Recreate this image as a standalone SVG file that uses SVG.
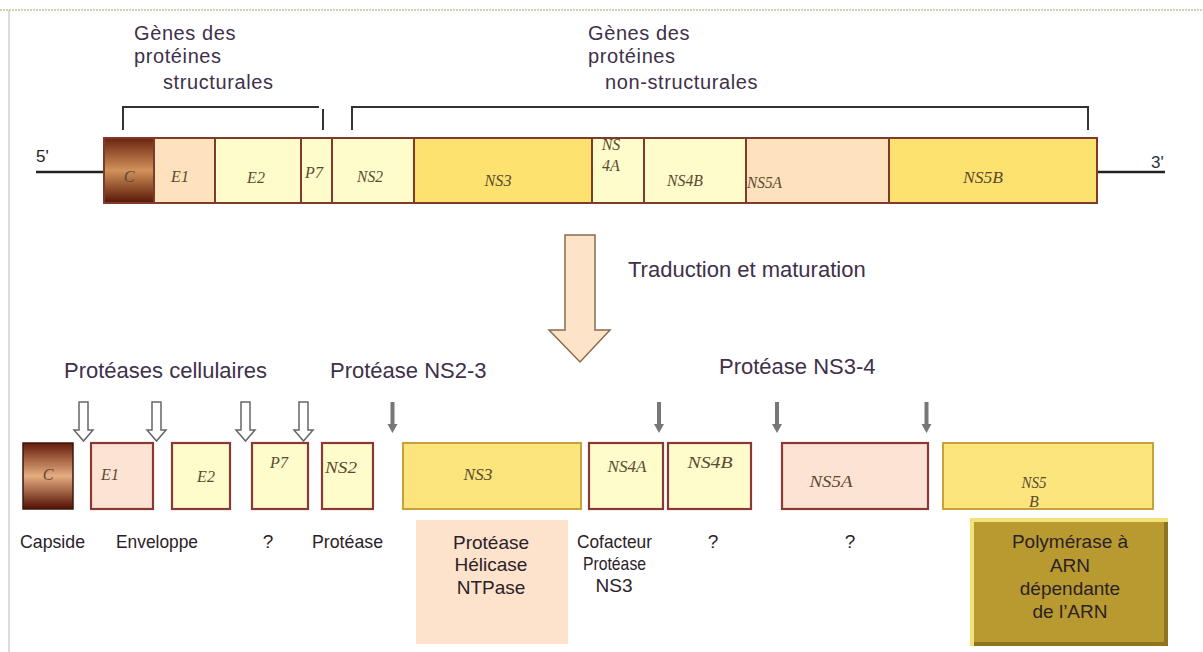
<svg xmlns="http://www.w3.org/2000/svg" width="1203" height="652" viewBox="0 0 1203 652">
<defs>
  <linearGradient id="gC" x1="0" y1="0" x2="0" y2="1">
    <stop offset="0" stop-color="#6a2410"/>
    <stop offset="0.5" stop-color="#d2925a"/>
    <stop offset="1" stop-color="#561606"/>
  </linearGradient>
  <linearGradient id="gC2" x1="0" y1="0" x2="0" y2="1">
    <stop offset="0" stop-color="#641a08"/>
    <stop offset="0.5" stop-color="#e6ad80"/>
    <stop offset="1" stop-color="#521004"/>
  </linearGradient>
  <style>
    .hdr { font-family: "Liberation Sans", Arial, sans-serif; font-size: 22px; fill: #40304a; }
    .gh { font-size: 20px; letter-spacing: 0.6px; }
    .fn { font-family: "Liberation Sans", Arial, sans-serif; font-size: 19px; fill: #2a2228; }
    .lab { font-family: "Liberation Serif", "Times New Roman", serif; font-style: italic; font-size: 16px; fill: #5a4a30; }
    .seg { stroke: #7e3a2c; stroke-width: 2; }
    .pale { fill: #fffccb; }
    .peach { fill: #fde2bd; }
    .gold { fill: #fee270; }
    .box { stroke: #8a3a34; stroke-width: 2.2; }
    .boxg { stroke: #c9a03a; stroke-width: 2; }
    .brk { fill: none; stroke: #333; stroke-width: 2; }
    .hollow { fill: #fff; stroke: #666; stroke-width: 1.5; }
    .grey { fill: #777; }
  </style>
</defs>
<rect width="1203" height="652" fill="#fff"/>
<g id="frame">
  <line x1="0" y1="10" x2="1203" y2="10" stroke="#cdbf98" stroke-width="1.5" stroke-dasharray="2 1"/>
  <line x1="9" y1="10" x2="9" y2="652" stroke="#cfcfcf" stroke-width="1.5"/>
</g>

<g id="headers">
  <text class="hdr gh" x="134" y="40">Gènes des</text>
  <text class="hdr gh" x="134" y="63">protéines</text>
  <text class="hdr gh" x="163" y="89">structurales</text>
  <text class="hdr gh" x="588" y="40">Gènes des</text>
  <text class="hdr gh" x="588" y="63">protéines</text>
  <text class="hdr gh" x="605" y="89">non-structurales</text>
</g>

<g id="genome">
  <line x1="36" y1="172" x2="104" y2="172" stroke="#222" stroke-width="2.5"/>
  <text x="36" y="162" font-family="Liberation Sans, Arial, sans-serif" font-size="17" fill="#222">5'</text>
  <line x1="1097" y1="172" x2="1165" y2="172" stroke="#222" stroke-width="2.5"/>
  <text x="1151" y="168" font-family="Liberation Sans, Arial, sans-serif" font-size="17" fill="#2a3040">3'</text>
  <g id="g-C"><rect x="104" y="138" width="50" height="65" fill="url(#gC)" class="seg"/><text class="lab" x="129" y="182" text-anchor="middle">C</text></g>
  <g id="g-E1"><rect x="154" y="138" width="61" height="65" class="seg peach"/><text class="lab" x="180" y="182" text-anchor="middle">E1</text></g>
  <g id="g-E2"><rect x="215" y="138" width="86" height="65" class="seg pale"/><text class="lab" x="256" y="183" text-anchor="middle">E2</text></g>
  <g id="g-P7"><rect x="301" y="138" width="31" height="65" class="seg pale"/><text class="lab" x="314" y="178" text-anchor="middle">P7</text></g>
  <g id="g-NS2"><rect x="332" y="138" width="82" height="65" class="seg pale"/><text class="lab" x="370" y="182" text-anchor="middle" textLength="26" lengthAdjust="spacingAndGlyphs">NS2</text></g>
  <g id="g-NS3"><rect x="414" y="138" width="178" height="65" class="seg gold" stroke="#c08a30"/><text class="lab" x="498" y="186" text-anchor="middle" textLength="27" lengthAdjust="spacingAndGlyphs">NS3</text></g>
  <g id="g-NS4A"><rect x="592" y="138" width="52" height="65" class="seg pale"/><text class="lab" x="611" y="150" text-anchor="middle">NS</text><text class="lab" x="611" y="171" text-anchor="middle">4A</text></g>
  <g id="g-NS4B"><rect x="644" y="138" width="102" height="65" class="seg pale"/><text class="lab" x="685" y="186" text-anchor="middle" textLength="36" lengthAdjust="spacingAndGlyphs">NS4B</text></g>
  <g id="g-NS5A"><rect x="746" y="138" width="143" height="65" class="seg peach"/><text class="lab" x="747" y="188" textLength="35" lengthAdjust="spacingAndGlyphs">NS5A</text></g>
  <g id="g-NS5B"><rect x="889" y="138" width="208" height="65" class="seg gold" stroke="#b87a30"/><text class="lab" x="983" y="183" text-anchor="middle" textLength="40" lengthAdjust="spacingAndGlyphs">NS5B</text></g>
</g>

<g id="connectors">
  <polyline class="brk" points="123,130 123,107 319,107"/>
  <line class="brk" x1="323" y1="109" x2="323" y2="130"/>
  <polyline class="brk" points="352,130 352,107 1088,107 1088,130"/>
  <polygon points="565,235 595,235 595,330 610,330 580,362 549,330 565,330" fill="#fde3c8" stroke="#8a6a50" stroke-width="1.5"/>
  <g id="hollow-arrows">
    <polygon class="hollow" points="79,402 88,402 88,430 93,430 83.5,441 74,430 79,430"/>
    <polygon class="hollow" points="152,402 161,402 161,430 166,430 156.5,441 147,430 152,430"/>
    <polygon class="hollow" points="241,402 250,402 250,430 255,430 245.5,441 236,430 241,430"/>
    <polygon class="hollow" points="299,402 308,402 308,430 313,430 303.5,441 294,430 299,430"/>
  </g>
  <g id="grey-arrows">
    <polygon class="grey" points="390.5,402 394.5,402 394.5,424 397.5,424 392.5,433 387.5,424 390.5,424"/>
    <polygon class="grey" points="657,402 661,402 661,424 664,424 659,433 654,424 657,424"/>
    <polygon class="grey" points="775,402 779,402 779,424 782,424 777,433 772,424 775,424"/>
    <polygon class="grey" points="924.5,402 928.5,402 928.5,424 931.5,424 926.5,433 921.5,424 924.5,424"/>
  </g>
</g>

<text class="hdr" x="628" y="277">Traduction et maturation</text>
<text class="hdr" x="64" y="378">Protéases cellulaires</text>
<text class="hdr" x="330" y="378">Protéase NS2-3</text>
<text class="hdr" x="719" y="374">Protéase NS3-4</text>

<g id="proteins">
  <g id="p-C"><rect x="23" y="443" width="50" height="66" fill="url(#gC2)" stroke="#3a1a10" stroke-width="1.5"/><text class="lab" x="48" y="480" text-anchor="middle">C</text></g>
  <g id="p-E1"><rect x="91" y="443" width="62" height="66" fill="#fde3d3" class="box"/><text class="lab" x="110" y="480" text-anchor="middle">E1</text></g>
  <g id="p-E2"><rect x="172" y="443" width="58" height="66" class="box pale"/><text class="lab" x="206" y="482" text-anchor="middle">E2</text></g>
  <g id="p-P7"><rect x="252" y="443" width="56" height="66" class="box pale"/><text class="lab" x="279" y="468" text-anchor="middle">P7</text></g>
  <g id="p-NS2"><rect x="322" y="443" width="51" height="66" class="box pale"/><text class="lab" x="341" y="473" text-anchor="middle" textLength="32" lengthAdjust="spacingAndGlyphs">NS2</text></g>
  <g id="p-NS3"><rect x="403" y="443" width="178" height="66" fill="#fde57e" class="boxg"/><text class="lab" x="478" y="480" text-anchor="middle" textLength="29" lengthAdjust="spacingAndGlyphs">NS3</text></g>
  <g id="p-NS4A"><rect x="589" y="443" width="74" height="66" class="box pale"/><text class="lab" x="627" y="472" text-anchor="middle" textLength="39" lengthAdjust="spacingAndGlyphs">NS4A</text></g>
  <g id="p-NS4B"><rect x="668" y="443" width="83" height="66" class="box pale"/><text class="lab" x="710" y="468" text-anchor="middle" textLength="45" lengthAdjust="spacingAndGlyphs">NS4B</text></g>
  <g id="p-NS5A"><rect x="782" y="443" width="146" height="66" fill="#fde3d3" class="box"/><text class="lab" x="831" y="487" text-anchor="middle" textLength="43" lengthAdjust="spacingAndGlyphs">NS5A</text></g>
  <g id="p-NS5B"><rect x="943" y="443" width="210" height="66" fill="#fde57e" class="boxg"/><text class="lab" x="1034" y="488" text-anchor="middle" textLength="25" lengthAdjust="spacingAndGlyphs">NS5</text><text class="lab" x="1034" y="507" text-anchor="middle">B</text></g>
</g>

<g id="functions">
  <text class="fn" x="20" y="548" textLength="65" lengthAdjust="spacingAndGlyphs">Capside</text>
  <text class="fn" x="116" y="548" textLength="82" lengthAdjust="spacingAndGlyphs">Enveloppe</text>
  <text class="fn" x="268" y="548" text-anchor="middle">?</text>
  <text class="fn" x="312" y="548" textLength="71" lengthAdjust="spacingAndGlyphs">Protéase</text>
  <g id="f-NS3">
    <rect x="416" y="520" width="152" height="124" fill="#fde3cc"/>
    <text class="fn" font-size="21" x="491" y="549" text-anchor="middle">Protéase</text>
    <text class="fn" font-size="21" x="491" y="571" text-anchor="middle">Hélicase</text>
    <text class="fn" font-size="21" x="491" y="594" text-anchor="middle">NTPase</text>
  </g>
  <text class="fn" x="577" y="548" textLength="75" lengthAdjust="spacingAndGlyphs">Cofacteur</text>
  <text class="fn" x="583" y="570" textLength="63" lengthAdjust="spacingAndGlyphs">Protéase</text>
  <text class="fn" x="614" y="592" text-anchor="middle">NS3</text>
  <text class="fn" x="713" y="548" text-anchor="middle">?</text>
  <text class="fn" x="850" y="548" text-anchor="middle">?</text>
  <g id="f-NS5B">
    <rect x="970" y="518" width="198" height="128" fill="#f2e27a"/>
    <rect x="974" y="522" width="194" height="124" fill="#8c7420"/>
    <rect x="974" y="522" width="190" height="120" fill="#b89a30"/>
    <text class="fn" x="1070" y="548" text-anchor="middle" fill="#2a2410">Polymérase à</text>
    <text class="fn" x="1070" y="572" text-anchor="middle" fill="#2a2410">ARN</text>
    <text class="fn" x="1070" y="595" text-anchor="middle" fill="#2a2410">dépendante</text>
    <text class="fn" x="1070" y="618" text-anchor="middle" fill="#2a2410">de l’ARN</text>
  </g>
</g>
</svg>
